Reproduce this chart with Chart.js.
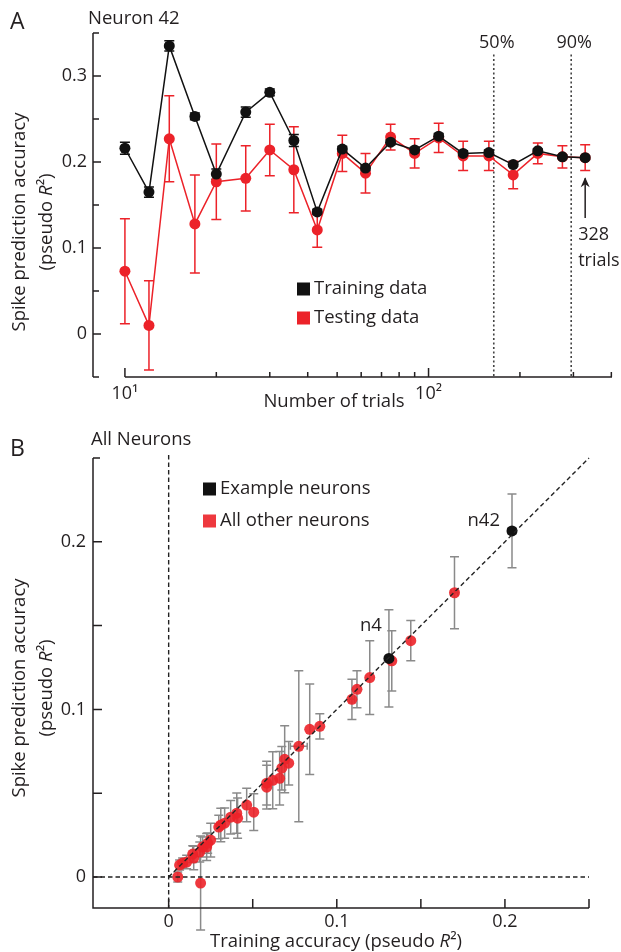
<!DOCTYPE html>
<html>
<head>
<meta charset="utf-8">
<script src="https://cdn.jsdelivr.net/npm/chart.js@4.4.1/dist/chart.umd.min.js"></script>
<style>
  html, body { margin: 0; padding: 0; background: #fff; }
  #chartA { position: absolute; left: 0; top: 0; }
  #chartB { position: absolute; left: 0; top: 425px; }
</style>
</head>
<body>
<canvas id="chartA" width="621" height="425"></canvas>
<canvas id="chartB" width="621" height="527"></canvas>
<script>
// ---- Panel A data (Neuron 42) ----
const trials   = [10, 12, 14, 17, 20, 25, 30, 36, 43, 52, 62, 75, 90, 108, 130, 158, 190, 229, 276, 328];
const trainAcc = [0.216, 0.165, 0.335, 0.253, 0.186, 0.258, 0.281, 0.225, 0.142, 0.215, 0.193, 0.223, 0.214, 0.230, 0.210, 0.211, 0.197, 0.213, 0.206, 0.205];
const trainErr = [0.007, 0.006, 0.006, 0.004, 0.006, 0.006, 0.004, 0.007, 0.003, 0.003, 0.003, 0.003, 0.003, 0.003, 0.003, 0.003, 0.002, 0.002, 0.002, 0.002];
const testAcc  = [0.073, 0.010, 0.227, 0.128, 0.177, 0.181, 0.214, 0.191, 0.121, 0.210, 0.187, 0.229, 0.210, 0.228, 0.207, 0.207, 0.185, 0.210, 0.206, 0.205];
const testErr  = [0.061, 0.052, 0.050, 0.057, 0.044, 0.038, 0.030, 0.050, 0.020, 0.021, 0.023, 0.015, 0.017, 0.017, 0.017, 0.017, 0.016, 0.012, 0.013, 0.015];
const markTrials = [164, 295];
const markLabels = ["50%", "90%"];
const totalTrials = 328;

const xTicksA  = [10, 20, 30, 40, 50, 60, 70, 80, 90, 100, 200, 300, 400];
const xMajorA  = [10, 100];
const xLabelsA = ["10\u00b9", "10\u00b2"];
const yTicksA  = [-0.05, 0, 0.05, 0.1, 0.15, 0.2, 0.25, 0.3, 0.35];
const yMajorA  = [0, 0.1, 0.2, 0.3];
const yLabelsA = ["0", "0.1", "0.2", "0.3"];

// ---- Panel B data (all neurons) ----
const otherX    = [0.0054, 0.019, 0.0065, 0.0083, 0.0107, 0.0143, 0.0149, 0.0185, 0.0202, 0.0226, 0.0232, 0.025, 0.0298, 0.031, 0.0333, 0.0369, 0.0405, 0.041, 0.0464, 0.0506, 0.0583, 0.0583, 0.0619, 0.066, 0.0673, 0.069, 0.0714, 0.0774, 0.0839, 0.0899, 0.109, 0.112, 0.1196, 0.1327, 0.144, 0.170];
const otherY    = [0.000, -0.0036, 0.0071, 0.0083, 0.0089, 0.0137, 0.0113, 0.0149, 0.0179, 0.0179, 0.0202, 0.022, 0.0298, 0.031, 0.0321, 0.0357, 0.0381, 0.0351, 0.0429, 0.0387, 0.0536, 0.056, 0.0577, 0.0589, 0.0649, 0.0702, 0.0679, 0.078, 0.0881, 0.0899, 0.106, 0.112, 0.119, 0.129, 0.141, 0.1696];
const otherYErr = [0.003, 0.028, 0.003, 0.003, 0.004, 0.005, 0.007, 0.006, 0.006, 0.008, 0.006, 0.010, 0.007, 0.010, 0.009, 0.010, 0.012, 0.012, 0.010, 0.011, 0.013, 0.013, 0.017, 0.016, 0.013, 0.020, 0.013, 0.045, 0.027, 0.0075, 0.012, 0.011, 0.022, 0.018, 0.012, 0.0215];
const otherXErr = [0, 0, 0, 0, 0, 0, 0, 0, 0, 0, 0, 0, 0, 0, 0, 0, 0, 0, 0, 0, 0, 0, 0, 0, 0, 0, 0, 0.005, 0, 0, 0.0015, 0, 0, 0, 0, 0.002];
const exampleNames = ["n4", "n42"];
const exampleX     = [0.131, 0.2042];
const exampleY     = [0.1304, 0.2065];
const exampleYErr  = [0.029, 0.022];
const exampleXErr  = [0.002, 0.0025];

const xTicksB  = [0, 0.05, 0.1, 0.15, 0.2, 0.25];
const yTicksB  = [0, 0.05, 0.1, 0.15, 0.2, 0.25];
const labelsB  = { 0: "0", 0.1: "0.1", 0.2: "0.2" };

const FONT = '"Open Sans", sans-serif';
const INK = "#231f20";
const RED = "#ec2229";

Chart.defaults.font.family = FONT;
Chart.defaults.color = INK;

// text with an italic R in the middle
function richText(ctx, parts, x, y, size) {
  let total = 0;
  parts.forEach(p => {
    ctx.font = (p.it ? "italic " : "") + size + "px " + FONT;
    p.w = ctx.measureText(p.t).width;
    total += p.w;
  });
  let cur = x - total / 2;
  ctx.textAlign = "left";
  ctx.textBaseline = "middle";
  parts.forEach(p => {
    ctx.font = (p.it ? "italic " : "") + size + "px " + FONT;
    ctx.fillText(p.t, cur, y);
    cur += p.w;
  });
}
const pseudoR = [{ t: "(pseudo " }, { t: "R", it: true }, { t: "\u00b2)" }];

function yTitle(ctx, cx1, cx2, cy) {
  ctx.save();
  ctx.fillStyle = INK;
  ctx.translate(cx1, cy);
  ctx.rotate(-Math.PI / 2);
  richText(ctx, [{ t: "Spike prediction accuracy" }], 0, 0, 18.5);
  ctx.restore();
  ctx.save();
  ctx.fillStyle = INK;
  ctx.translate(cx2, cy);
  ctx.rotate(-Math.PI / 2);
  richText(ctx, pseudoR, 0, 0, 18.5);
  ctx.restore();
}

function text(ctx, str, x, y, size, align) {
  ctx.font = size + "px " + FONT;
  ctx.fillStyle = INK;
  ctx.textAlign = align || "left";
  ctx.textBaseline = "middle";
  ctx.fillText(str, x, y);
}

function errBar(ctx, px, top, bottom, cap) {
  ctx.beginPath();
  ctx.moveTo(px, top); ctx.lineTo(px, bottom);
  ctx.moveTo(px - cap, top); ctx.lineTo(px + cap, top);
  ctx.moveTo(px - cap, bottom); ctx.lineTo(px + cap, bottom);
  ctx.stroke();
}

// ---------------- PANEL A ----------------
const panelA = {
  id: "panelA",
  beforeDatasetsDraw(chart) {
    const { ctx, chartArea: a, scales: { x, y } } = chart;
    ctx.save();
    // dotted 50% / 90% lines
    ctx.strokeStyle = "#444";
    ctx.lineWidth = 1.6;
    ctx.setLineDash([2, 2.5]);
    markTrials.forEach(t => {
      const px = x.getPixelForValue(t);
      ctx.beginPath();
      ctx.moveTo(px, y.getPixelForValue(0.325));
      ctx.lineTo(px, a.bottom);
      ctx.stroke();
    });
    ctx.setLineDash([]);
    // error bars
    ctx.lineWidth = 1.5;
    ctx.strokeStyle = RED;
    trials.forEach((t, i) => {
      errBar(ctx, x.getPixelForValue(t), y.getPixelForValue(testAcc[i] + testErr[i]), y.getPixelForValue(testAcc[i] - testErr[i]), 5);
    });
    ctx.strokeStyle = "#111";
    trials.forEach((t, i) => {
      errBar(ctx, x.getPixelForValue(t), y.getPixelForValue(trainAcc[i] + trainErr[i]), y.getPixelForValue(trainAcc[i] - trainErr[i]), 5);
    });
    ctx.restore();
  },
  afterDraw(chart) {
    const { ctx, chartArea: a, scales: { x, y } } = chart;
    ctx.save();
    ctx.strokeStyle = INK;
    ctx.lineWidth = 1.5;
    // y axis with inward ticks
    ctx.beginPath();
    ctx.moveTo(a.left, a.top); ctx.lineTo(a.left, a.bottom);
    yTicksA.forEach(v => {
      const py = y.getPixelForValue(v);
      const len = yMajorA.includes(v) ? 8 : 6;
      ctx.moveTo(a.left, py); ctx.lineTo(a.left + len, py);
    });
    // x axis, starting at the first decade
    const x0 = x.getPixelForValue(10);
    ctx.moveTo(x0, a.bottom); ctx.lineTo(a.right, a.bottom);
    xTicksA.forEach(v => {
      const px = x.getPixelForValue(v);
      const len = xMajorA.includes(v) ? 9 : 5;
      ctx.moveTo(px, a.bottom); ctx.lineTo(px, a.bottom - len);
    });
    ctx.stroke();

    // arrow for total trials
    const ax = x.getPixelForValue(totalTrials);
    const tip = y.getPixelForValue(0.181);
    ctx.beginPath();
    ctx.moveTo(ax, y.getPixelForValue(0.135)); ctx.lineTo(ax, tip);
    ctx.stroke();
    ctx.fillStyle = INK;
    ctx.beginPath();
    ctx.moveTo(ax, tip - 1); ctx.lineTo(ax - 4.5, tip + 9); ctx.lineTo(ax, tip + 6); ctx.lineTo(ax + 4.5, tip + 9);
    ctx.closePath();
    ctx.fill();
    ctx.restore();

    ctx.save();
    text(ctx, "A", 10, 22, 23);
    text(ctx, "Neuron 42", 88, 19, 18.5);
    markTrials.forEach((t, i) => text(ctx, markLabels[i], x.getPixelForValue(t) + 3, 43, 18, "center"));
    text(ctx, String(totalTrials), ax - 7, 235, 18);
    text(ctx, "trials", ax - 7, 261, 18);

    // legend
    chart.data.datasets.forEach((ds, i) => {
      const ly = 289 + i * 29;
      ctx.fillStyle = ds.borderColor;
      ctx.fillRect(297, ly - 6.5, 13, 13);
      text(ctx, ds.label, 314, ly, 18.5);
    });

    // axis titles
    yTitle(ctx, 20, 47, 222);
    text(ctx, "Number of trials", 334, 402, 18.5, "center");
    ctx.restore();
  }
};

new Chart(document.getElementById("chartA"), {
  type: "line",
  data: {
    datasets: [
      {
        label: "Training data",
        data: trials.map((t, i) => ({ x: t, y: trainAcc[i] })),
        borderColor: "#111",
        backgroundColor: "#111",
        borderWidth: 1.5,
        pointRadius: 5.5,
        pointBorderWidth: 0,
        tension: 0,
        order: 0
      },
      {
        label: "Testing data",
        data: trials.map((t, i) => ({ x: t, y: testAcc[i] })),
        borderColor: RED,
        backgroundColor: RED,
        borderWidth: 1.5,
        pointRadius: 5.5,
        pointBorderWidth: 0,
        tension: 0,
        order: 1
      }
    ]
  },
  options: {
    responsive: false,
    animation: false,
    events: [],
    layout: { padding: { top: 33, right: 9, left: 0, bottom: 0 } },
    plugins: { legend: { display: false }, tooltip: { enabled: false } },
    scales: {
      x: {
        type: "logarithmic",
        min: 7.85,
        max: 402,
        afterBuildTicks: s => { s.ticks = xTicksA.map(v => ({ value: v })); },
        afterFit: s => { s.height = 48; },
        grid: { display: false, drawTicks: false },
        border: { display: false },
        ticks: {
          autoSkip: false,
          maxRotation: 0,
          padding: 6,
          font: { size: 18 },
          color: INK,
          callback: v => { const k = xMajorA.indexOf(v); return k >= 0 ? xLabelsA[k] : ""; }
        }
      },
      y: {
        type: "linear",
        min: -0.05,
        max: 0.35,
        afterBuildTicks: s => { s.ticks = yTicksA.map(v => ({ value: v })); },
        afterFit: s => { s.width = 93; },
        grid: { display: false, drawTicks: false },
        border: { display: false },
        ticks: {
          autoSkip: false,
          padding: 6,
          font: { size: 18 },
          color: INK,
          callback: v => { const k = yMajorA.indexOf(v); return k >= 0 ? yLabelsA[k] : ""; }
        }
      }
    }
  },
  plugins: [panelA]
});

// ---------------- PANEL B ----------------
const panelB = {
  id: "panelB",
  beforeDatasetsDraw(chart) {
    const { ctx, scales: { x, y } } = chart;
    ctx.save();
    ctx.strokeStyle = "#8a8a8a";
    ctx.lineWidth = 1.5;
    const bars = (xs, ys, ye, xe) => xs.forEach((v, i) => {
      const px = x.getPixelForValue(v), py = y.getPixelForValue(ys[i]);
      errBar(ctx, px, y.getPixelForValue(ys[i] + ye[i]), y.getPixelForValue(ys[i] - ye[i]), 4.5);
      if (xe[i] > 0) {
        const l = x.getPixelForValue(v - xe[i]), r = x.getPixelForValue(v + xe[i]);
        ctx.beginPath();
        ctx.moveTo(l, py); ctx.lineTo(r, py);
        ctx.moveTo(l, py - 3.5); ctx.lineTo(l, py + 3.5);
        ctx.moveTo(r, py - 3.5); ctx.lineTo(r, py + 3.5);
        ctx.stroke();
      }
    });
    bars(otherX, otherY, otherYErr, otherXErr);
    bars(exampleX, exampleY, exampleYErr, exampleXErr);
    ctx.restore();
  },
  afterDatasetsDraw(chart) {
    const { ctx, chartArea: a, scales: { x, y } } = chart;
    ctx.save();
    ctx.strokeStyle = "#222";
    ctx.lineWidth = 1.4;
    ctx.setLineDash([4.5, 3]);
    ctx.beginPath();
    ctx.moveTo(x.getPixelForValue(0), a.top - 3); ctx.lineTo(x.getPixelForValue(0), a.bottom);
    ctx.moveTo(a.left, y.getPixelForValue(0)); ctx.lineTo(a.right, y.getPixelForValue(0));
    ctx.moveTo(x.getPixelForValue(0), y.getPixelForValue(0)); ctx.lineTo(x.getPixelForValue(0.25), y.getPixelForValue(0.25));
    ctx.stroke();
    ctx.restore();
  },
  afterDraw(chart) {
    const { ctx, chartArea: a, scales: { x, y } } = chart;
    ctx.save();
    ctx.strokeStyle = INK;
    ctx.lineWidth = 1.5;
    ctx.beginPath();
    ctx.moveTo(a.left, a.top); ctx.lineTo(a.left, a.bottom); ctx.lineTo(a.right, a.bottom);
    yTicksB.forEach(v => {
      const py = y.getPixelForValue(v);
      ctx.moveTo(a.left, py); ctx.lineTo(a.left + (v === 0.25 ? 7 : 9), py);
    });
    xTicksB.forEach(v => {
      const px = x.getPixelForValue(v);
      ctx.moveTo(px, a.bottom); ctx.lineTo(px, a.bottom - 9);
    });
    ctx.stroke();
    ctx.restore();

    ctx.save();
    text(ctx, "B", 10, 24, 23);
    text(ctx, "All Neurons", 91, 15, 18.5);
    // neuron labels
    const offs = [[-7, -33], [-12, -10]];
    exampleNames.forEach((n, i) => {
      text(ctx, n, x.getPixelForValue(exampleX[i]) + offs[i][0], y.getPixelForValue(exampleY[i]) + offs[i][1], 18.5, "right");
    });
    // legend
    chart.data.datasets.forEach((ds, i) => {
      const ly = 64 + i * 32;
      ctx.fillStyle = ds.backgroundColor;
      ctx.fillRect(203, ly - 6.5, 13, 13);
      text(ctx, ds.label, 220, ly, 18.5);
    });
    yTitle(ctx, 20, 47, 263);
    ctx.fillStyle = INK;
    richText(ctx, [{ t: "Training accuracy " }].concat(pseudoR), 336, 517, 18.5);
    ctx.restore();
  }
};

new Chart(document.getElementById("chartB"), {
  type: "scatter",
  data: {
    datasets: [
      {
        label: "Example neurons",
        data: exampleX.map((v, i) => ({ x: v, y: exampleY[i] })),
        backgroundColor: "#111",
        pointRadius: 5.5,
        pointBorderWidth: 0,
        order: 0
      },
      {
        label: "All other neurons",
        data: otherX.map((v, i) => ({ x: v, y: otherY[i] })),
        backgroundColor: "rgba(236,34,41,0.9)",
        pointRadius: 5.5,
        pointBorderWidth: 0,
        order: 1
      }
    ]
  },
  options: {
    responsive: false,
    animation: false,
    events: [],
    layout: { padding: { top: 33, right: 32, left: 0, bottom: 0 } },
    plugins: { legend: { display: false }, tooltip: { enabled: false } },
    scales: {
      x: {
        type: "linear",
        min: -0.045,
        max: 0.25,
        afterBuildTicks: s => { s.ticks = xTicksB.map(v => ({ value: v })); },
        afterFit: s => { s.height = 44; },
        grid: { display: false, drawTicks: false },
        border: { display: false },
        ticks: { autoSkip: false, maxRotation: 0, padding: 3, font: { size: 18 }, color: INK, callback: v => labelsB[v] || "" }
      },
      y: {
        type: "linear",
        min: -0.0185,
        max: 0.25,
        afterBuildTicks: s => { s.ticks = yTicksB.map(v => ({ value: v })); },
        afterFit: s => { s.width = 93; },
        grid: { display: false, drawTicks: false },
        border: { display: false },
        ticks: { autoSkip: false, padding: 7, font: { size: 18 }, color: INK, callback: v => labelsB[v] || "" }
      }
    }
  },
  plugins: [panelB]
});
</script>
</body>
</html>
